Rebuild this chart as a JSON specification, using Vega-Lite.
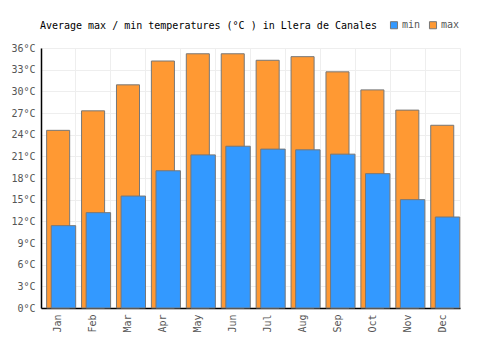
{
  "$schema": "https://vega.github.io/schema/vega-lite/v6.json",
  "width": 419,
  "height": 260,
  "autosize": {"type": "none"},
  "padding": {"left": 41, "top": 48, "right": 40, "bottom": 42},
  "background": "white",
  "title": {
    "text": "Average max / min temperatures (°C ) in Llera de Canales",
    "anchor": "start",
    "font": "DejaVu Sans Mono",
    "fontSize": 10,
    "fontWeight": "normal",
    "color": "#000",
    "offset": -11,
    "dx": 29
  },
  "config": {
    "view": {"stroke": "#eeeeee"},
    "font": "DejaVu Sans Mono"
  },
  "data": {
    "values": [
      {"month": "Jan", "min": 11.4, "max": 24.6},
      {"month": "Feb", "min": 13.2, "max": 27.3},
      {"month": "Mar", "min": 15.5, "max": 30.9},
      {"month": "Apr", "min": 19.0, "max": 34.2},
      {"month": "May", "min": 21.2, "max": 35.2},
      {"month": "Jun", "min": 22.4, "max": 35.2},
      {"month": "Jul", "min": 22.0, "max": 34.3},
      {"month": "Aug", "min": 21.9, "max": 34.8},
      {"month": "Sep", "min": 21.3, "max": 32.7},
      {"month": "Oct", "min": 18.6, "max": 30.2},
      {"month": "Nov", "min": 15.0, "max": 27.4},
      {"month": "Dec", "min": 12.6, "max": 25.3}
    ]
  },
  "encoding": {
    "x": {
      "field": "month",
      "type": "nominal",
      "sort": null,
      "scale": {"paddingInner": 0, "paddingOuter": 0},
      "axis": {
        "title": null,
        "bandPosition": 0,
        "labelAngle": -90,
        "labelAlign": "right",
        "labelBaseline": "middle",
        "labelFont": "DejaVu Sans Mono",
        "labelFontSize": 10,
        "labelColor": "#555",
        "labelPadding": 6,
        "ticks": false,
        "grid": true,
        "gridColor": "#eeeeee",
        "domainColor": "#000",
        "domainWidth": 1.5
      }
    }
  },
  "layer": [
    {
      "mark": {"type": "bar", "width": {"band": 0.66}, "xOffset": -0.3, "stroke": "#777", "strokeWidth": 1},
      "encoding": {
        "y": {
          "field": "max",
          "type": "quantitative",
          "scale": {"domain": [0, 36], "nice": false},
          "axis": {
            "title": null,
            "values": [0, 3, 6, 9, 12, 15, 18, 21, 24, 27, 30, 33, 36],
            "labelExpr": "datum.value + '°C'",
            "labelOverlap": false,
            "labelFont": "DejaVu Sans Mono",
            "labelFontSize": 10,
            "labelColor": "#555",
            "ticks": false,
            "labelPadding": 6,
            "gridColor": "#eeeeee",
            "domainColor": "#000",
            "domainWidth": 1.5
          }
        },
        "color": {
          "datum": "max",
          "type": "nominal",
          "scale": {"domain": ["min", "max"], "range": ["#3399ff", "#ff9933"]},
          "legend": {
            "title": null,
            "orient": "none",
            "direction": "horizontal",
            "legendX": 348,
            "legendY": -28,
            "symbolType": "square",
            "symbolSize": 50,
            "symbolStrokeColor": "#777",
            "symbolStrokeWidth": 1,
            "symbolOpacity": 1,
            "labelFont": "DejaVu Sans Mono",
            "labelFontSize": 10,
            "labelColor": "#555",
            "labelOffset": 3,
            "columnPadding": 6
          }
        }
      }
    },
    {
      "mark": {"type": "bar", "width": {"band": 0.70}, "xOffset": 5, "stroke": "#777", "strokeWidth": 1},
      "encoding": {
        "y": {
          "field": "min",
          "type": "quantitative",
          "axis": {
            "title": null,
            "values": [0, 3, 6, 9, 12, 15, 18, 21, 24, 27, 30, 33, 36],
            "labelExpr": "datum.value + '°C'",
            "labelOverlap": false,
            "labelFont": "DejaVu Sans Mono",
            "labelFontSize": 10,
            "labelColor": "#555",
            "ticks": false,
            "labelPadding": 6,
            "gridColor": "#eeeeee",
            "domainColor": "#000",
            "domainWidth": 1.5
          }
        },
        "color": {"datum": "min", "type": "nominal"}
      }
    }
  ]
}
